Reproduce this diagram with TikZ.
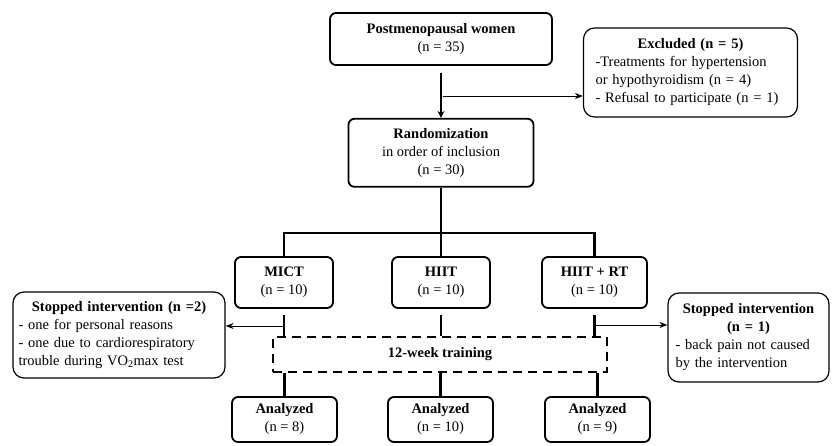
\documentclass[tikz,border=0pt]{standalone}
\usepackage{fontspec}
\setmainfont{Liberation Serif}
\usetikzlibrary{arrows.meta,positioning}

\begin{document}
\begin{tikzpicture}[
    x=1pt, y=-1pt,
    font=\fontsize{14.5}{18}\selectfont,
    box/.style={rectangle, draw, rounded corners=6pt, line width=1.8pt, align=center, inner sep=2pt},
    note/.style={rectangle, draw, rounded corners=11pt, line width=1.2pt, align=left, inner sep=2pt},
    train/.style={rectangle, draw, line width=1.6pt, dash pattern=on 9pt off 6pt},
    arrow/.style={-{Stealth[length=7pt, width=7pt]}, line width=2.6pt},
    side/.style={-{Stealth[length=8pt, width=6pt]}, line width=1pt},
    link/.style={line width=2.6pt}
]
\useasboundingbox (0,0) rectangle (832,445);

% Enrolment
\node[box, minimum width=222pt, minimum height=52pt] (top) at (441,39)
    {\textbf{Postmenopausal women}\\(n = 35)};
\node[box, minimum width=185pt, minimum height=68pt, below=52pt of top] (rand)
    {\textbf{Randomization}\\in order of inclusion\\(n = 30)};
\node[note, minimum width=214pt, minimum height=89pt, text width=190pt] (excl) at (690.5,72.5)
    {\makebox[\hsize]{\textbf{Excluded (n = 5)}}\\
     -Treatments for hypertension\\
     or hypothyroidism (n = 4)\\
     - Refusal to participate (n = 1)};

\draw[arrow, shorten <=7pt] (top.south) -- (rand.north);
\coordinate (split) at (443,96);
\draw[side] (split) -- (split -| excl.west);

% Groups
\node[box, minimum width=98pt, minimum height=51pt] (mict) at (284,282.5)
    {\textbf{MICT}\\(n = 10)};
\node[box, minimum width=98pt, minimum height=51pt] (hiit) at (441,282.5)
    {\textbf{HIIT}\\(n = 10)};
\node[box, minimum width=105pt, minimum height=51pt] (hiitrt) at (594.5,282.5)
    {\textbf{HIIT + RT}\\(n = 10)};

\coordinate (fork) at (441,233);
\draw[link] (rand.south) -- (fork);
\draw[link] (mict.north) |- (fork) -| (hiitrt.north);
\draw[link] (fork) -- (hiit.north);

% Training
\node[train, minimum width=334pt, minimum height=35pt] (train) at (440,354.5)
    {\textbf{12-week training}};

\draw[link, shorten <=6pt] (mict.south) -- (mict.south |- train.north);
\draw[link, shorten <=6pt] (hiit.south) -- (hiit.south |- train.north);
\draw[link, shorten <=6pt] (hiitrt.south) -- (hiitrt.south |- train.north);

% Drop-outs
\node[note, minimum width=212pt, minimum height=86pt, text width=201pt] (stop1) at (119,335)
    {\makebox[\hsize]{\textbf{Stopped intervention (n =2)}}\\
     - one for personal reasons\\
     - one due to cardiorespiratory\\
     trouble during VO\textsubscript{2}max test};
\node[note, minimum width=161pt, minimum height=89pt, text width=146pt] (stop2) at (748.5,337.5)
    {\makebox[\hsize]{\textbf{Stopped intervention}}\\
     \makebox[\hsize]{\textbf{(n = 1)}}\\
     - back pain not caused\\
     by the intervention};

\coordinate (out1) at (284,326);
\coordinate (out2) at (594.5,325);
\draw[side] (out1) -- (out1 -| stop1.east);
\draw[side] (out2) -- (out2 -| stop2.west);

% Analysis
\node[box, minimum width=105pt, minimum height=45pt] (ana1) at (284.5,419.5)
    {\textbf{Analyzed}\\(n = 8)};
\node[box, minimum width=105pt, minimum height=45pt] (ana2) at (440.5,419.5)
    {\textbf{Analyzed}\\(n = 10)};
\node[box, minimum width=105pt, minimum height=45pt] (ana3) at (597.5,419.5)
    {\textbf{Analyzed}\\(n = 9)};

\draw[link] (ana1.north |- train.south) -- (ana1.north);
\draw[link] (ana2.north |- train.south) -- (ana2.north);
\draw[link] (ana3.north |- train.south) -- (ana3.north);

\end{tikzpicture}
\end{document}
